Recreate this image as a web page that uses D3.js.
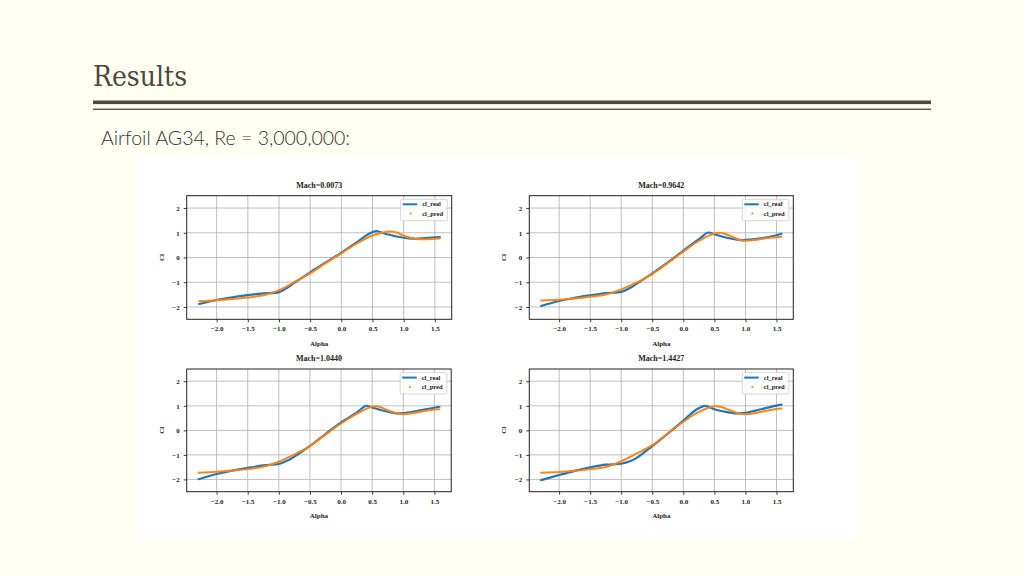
<!DOCTYPE html>
<html>
<head>
<meta charset="utf-8">
<script src="https://cdn.jsdelivr.net/npm/d3@7"></script>
<style>
  html, body { margin: 0; padding: 0; background: #fffff2; }
  svg { display: block; }
</style>
</head>
<body>
<svg id="chart" width="1024" height="576"></svg>
<script>
// ---------- data ----------
const pageTitle = "Results";
const subTitle = "Airfoil AG34, Re = 3,000,000:";
const machTitles = ["Mach=0.0073", "Mach=0.9642", "Mach=1.0440", "Mach=1.4427"];
const seriesNames = ["cl_real", "cl_pred"];
const xTicks = [-2.0, -1.5, -1.0, -0.5, 0.0, 0.5, 1.0, 1.5];
const yTicks = [-2, -1, 0, 1, 2];

const real1 = [[-2.28,-1.88],[-2.0,-1.72],[-1.75,-1.61],[-1.5,-1.52],[-1.25,-1.45],[-1.0,-1.40],[-0.85,-1.20],[-0.75,-1.02],[-0.5,-0.60],[-0.25,-0.20],[0,0.20],[0.25,0.62],[0.45,0.97],[0.56,1.07],[0.7,0.96],[0.85,0.87],[1.0,0.80],[1.15,0.76],[1.3,0.77],[1.45,0.81],[1.58,0.83]];
const pred1 = [[-2.28,-1.77],[-2.0,-1.73],[-1.75,-1.68],[-1.5,-1.62],[-1.25,-1.53],[-1.0,-1.33],[-0.75,-0.99],[-0.5,-0.64],[-0.25,-0.23],[0,0.17],[0.25,0.57],[0.5,0.89],[0.65,1.00],[0.79,1.05],[0.9,1.00],[1.0,0.88],[1.15,0.77],[1.3,0.74],[1.45,0.75],[1.58,0.77]];

const real2 = [[-2.29,-1.96],[-2.0,-1.76],[-1.75,-1.63],[-1.5,-1.53],[-1.25,-1.44],[-1.0,-1.39],[-0.85,-1.22],[-0.75,-1.06],[-0.5,-0.64],[-0.25,-0.20],[0,0.28],[0.25,0.74],[0.4,1.01],[0.5,0.94],[0.65,0.83],[0.8,0.75],[0.9,0.71],[1.0,0.71],[1.25,0.78],[1.5,0.90],[1.58,0.96]];
const pred2 = [[-2.29,-1.74],[-2.0,-1.71],[-1.75,-1.66],[-1.5,-1.59],[-1.25,-1.50],[-1.0,-1.29],[-0.75,-1.01],[-0.5,-0.67],[-0.25,-0.22],[0,0.24],[0.25,0.67],[0.5,0.97],[0.6,1.00],[0.75,0.88],[0.9,0.72],[1.0,0.68],[1.15,0.71],[1.3,0.77],[1.5,0.82],[1.58,0.84]];

const real3 = [[-2.29,-1.99],[-2.0,-1.78],[-1.75,-1.64],[-1.5,-1.53],[-1.25,-1.43],[-1.0,-1.37],[-0.85,-1.22],[-0.75,-1.07],[-0.5,-0.63],[-0.25,-0.15],[0,0.32],[0.25,0.72],[0.4,1.00],[0.5,0.93],[0.65,0.82],[0.8,0.73],[0.9,0.69],[1.0,0.70],[1.25,0.81],[1.5,0.92],[1.58,0.96]];
const pred3 = [[-2.29,-1.73],[-2.0,-1.69],[-1.75,-1.64],[-1.5,-1.58],[-1.25,-1.48],[-1.0,-1.28],[-0.75,-0.98],[-0.5,-0.64],[-0.25,-0.18],[0,0.28],[0.25,0.67],[0.5,0.97],[0.6,0.97],[0.75,0.82],[0.9,0.69],[1.0,0.66],[1.15,0.70],[1.3,0.77],[1.5,0.85],[1.58,0.86]];

const real4 = [[-2.29,-2.03],[-2.0,-1.82],[-1.75,-1.65],[-1.5,-1.51],[-1.25,-1.40],[-1.0,-1.36],[-0.85,-1.25],[-0.75,-1.12],[-0.5,-0.64],[-0.25,-0.13],[0,0.40],[0.2,0.83],[0.35,1.00],[0.5,0.86],[0.65,0.77],[0.8,0.70],[0.9,0.69],[1.0,0.71],[1.25,0.86],[1.5,1.01],[1.58,1.05]];
const pred4 = [[-2.29,-1.73],[-2.0,-1.70],[-1.75,-1.65],[-1.5,-1.58],[-1.25,-1.49],[-1.0,-1.26],[-0.75,-0.94],[-0.5,-0.60],[-0.25,-0.13],[0,0.35],[0.25,0.75],[0.5,0.98],[0.6,0.96],[0.75,0.82],[0.9,0.69],[1.0,0.66],[1.15,0.70],[1.3,0.78],[1.5,0.87],[1.58,0.89]];

const realSeries = [real1, real2, real3, real4];
const predSeries = [pred1, pred2, pred3, pred4];

// ---------- layout ----------
const svg = d3.select("#chart");
const ink = "#4a4a3e";
const C_REAL = "#1f77b4", C_PRED = "#ff7f0e";

svg.append("text").attr("x", 93).attr("y", 86)
  .attr("font-family", "DejaVu Serif, serif").attr("font-size", 28)
  .style("font-stretch", "condensed")
  .attr("fill", ink).text(pageTitle);
svg.append("rect").attr("x", 93).attr("y", 100.5).attr("width", 838).attr("height", 3.6).attr("fill", ink);
svg.append("rect").attr("x", 93).attr("y", 108.6).attr("width", 838).attr("height", 1.3).attr("fill", ink);
svg.append("text").attr("x", 101).attr("y", 144.5)
  .attr("font-family", "Lato, sans-serif").attr("font-size", 19.5).attr("font-weight", 300)
  .attr("fill", "#333333").text(subTitle);

// white figure canvas
svg.append("rect").attr("x", 137).attr("y", 155).attr("width", 721).attr("height", 385).attr("fill", "#ffffff");

const panelBoxes = [
  {x: 186.7, y: 195.7, w: 265, h: 123.6},
  {x: 529.3, y: 195.7, w: 264, h: 123.6},
  {x: 186.7, y: 369.0, w: 264.5, h: 122.7},
  {x: 529.3, y: 369.0, w: 264, h: 122.7}
];

const fmtX = d => (d < 0 ? "\u2212" : "") + Math.abs(d).toFixed(1);
const fmtY = d => (d < 0 ? "\u2212" : "") + Math.abs(d).toFixed(0);
const FONT = "Liberation Serif, Times New Roman, serif";

panelBoxes.forEach((b, i) => {
  const g = svg.append("g").attr("transform", `translate(${b.x},${b.y})`);
  const x = d3.scaleLinear().domain([-2.48, 1.77]).range([0, b.w]);
  const y = d3.scaleLinear().domain([-2.5, 2.5]).range([b.h, 0]);

  // grid
  g.append("g").selectAll("line.gx").data(xTicks).join("line")
    .attr("x1", d => x(d)).attr("x2", d => x(d)).attr("y1", 0).attr("y2", b.h)
    .attr("stroke", "#b8b8b8").attr("stroke-width", 0.9);
  g.append("g").selectAll("line.gy").data(yTicks).join("line")
    .attr("y1", d => y(d)).attr("y2", d => y(d)).attr("x1", 0).attr("x2", b.w)
    .attr("stroke", "#b8b8b8").attr("stroke-width", 0.9);

  // axes
  const xa = g.append("g").attr("transform", `translate(0,${b.h})`)
    .call(d3.axisBottom(x).tickValues(xTicks).tickFormat(fmtX).tickSize(3).tickPadding(4));
  const ya = g.append("g")
    .call(d3.axisLeft(y).tickValues(yTicks).tickFormat(fmtY).tickSize(3).tickPadding(4));
  [xa, ya].forEach(a => {
    a.select(".domain").remove();
    a.selectAll("line").attr("stroke", "#222").attr("stroke-width", 0.9);
    a.selectAll("text").attr("font-family", FONT).attr("font-size", 7)
      .attr("font-weight", "bold").attr("fill", "#222");
  });

  // lines
  const line = d3.line().x(d => x(d[0])).y(d => y(d[1])).curve(d3.curveCatmullRom.alpha(0.5));
  g.append("path").datum(realSeries[i]).attr("d", line)
    .attr("fill", "none").attr("stroke", C_REAL).attr("stroke-width", 2.2).attr("stroke-linecap", "round");
  g.append("path").datum(predSeries[i]).attr("d", line)
    .attr("fill", "none").attr("stroke", C_PRED).attr("stroke-width", 2.0).attr("stroke-linecap", "round")
    .attr("stroke-opacity", 0.95);

  // frame
  g.append("rect").attr("width", b.w).attr("height", b.h)
    .attr("fill", "none").attr("stroke", "#222").attr("stroke-width", 1);

  // title & labels
  g.append("text").attr("x", b.w / 2).attr("y", -8).attr("text-anchor", "middle")
    .attr("font-family", FONT).attr("font-size", 8).attr("font-weight", "bold").attr("fill", "#222")
    .text(machTitles[i]);
  g.append("text").attr("x", b.w / 2).attr("y", b.h + 26.5).attr("text-anchor", "middle")
    .attr("font-family", FONT).attr("font-size", 7).attr("font-weight", "bold").attr("fill", "#222")
    .text("Alpha");
  g.append("text").attr("transform", `translate(-23,${b.h / 2}) rotate(-90)`).attr("text-anchor", "middle")
    .attr("font-family", FONT).attr("font-size", 7).attr("font-weight", "bold").attr("fill", "#222")
    .text("Cl");

  // legend
  const lw = 46.6, lh = 21.4;
  const lg = g.append("g").attr("transform", `translate(${b.w - 4.4 - lw},3.6)`);
  lg.append("rect").attr("width", lw).attr("height", lh).attr("rx", 1.5)
    .attr("fill", "#ffffff").attr("fill-opacity", 0.85).attr("stroke", "#cccccc").attr("stroke-width", 0.8);
  lg.append("line").attr("x1", 2).attr("x2", 16.5).attr("y1", 5).attr("y2", 5)
    .attr("stroke", C_REAL).attr("stroke-width", 2);
  lg.append("circle").attr("cx", 10).attr("cy", 14.3).attr("r", 1).attr("fill", C_PRED);
  seriesNames.forEach((n, k) => {
    lg.append("text").attr("x", 21.5).attr("y", 7.2 + k * 9.3)
      .attr("font-family", FONT).attr("font-size", 6.5).attr("font-weight", "bold").attr("fill", "#222")
      .text(n);
  });
});
</script>
</body>
</html>
